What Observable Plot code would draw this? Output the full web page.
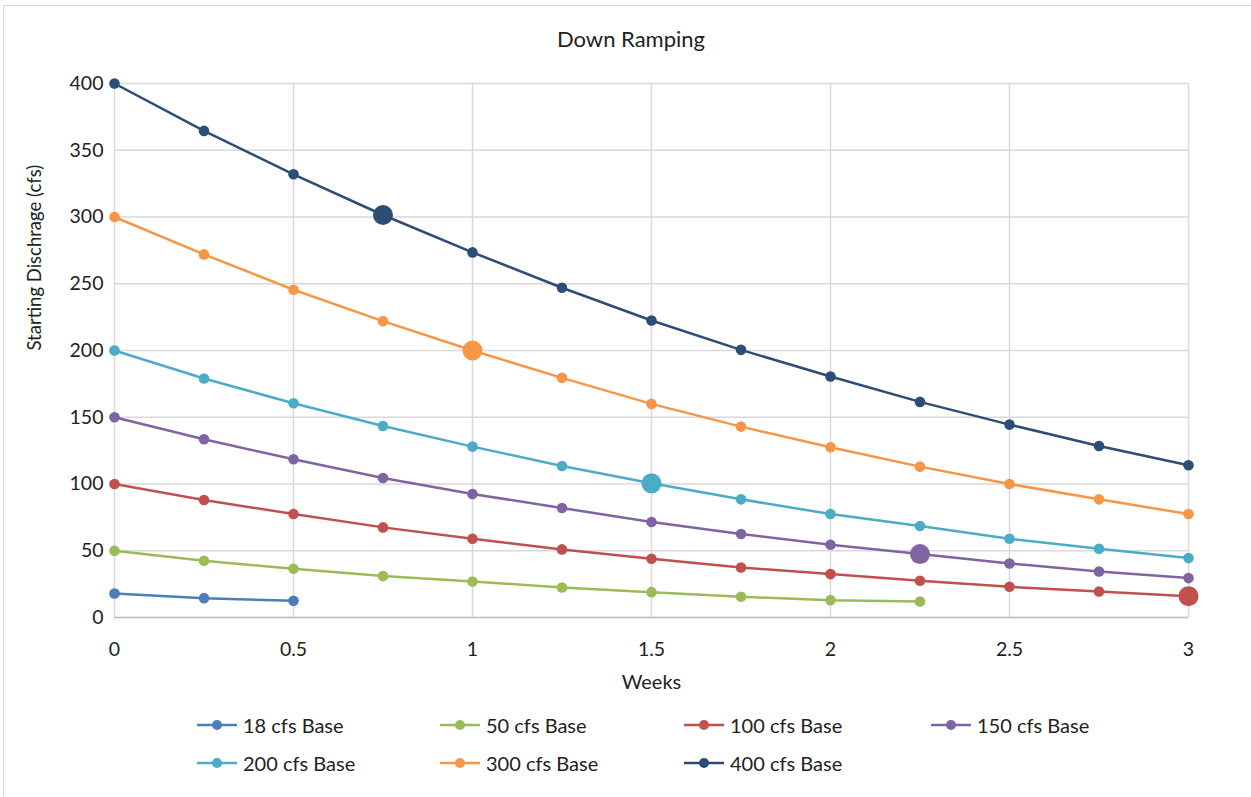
<!DOCTYPE html>
<html>
<head>
<meta charset="utf-8">
<script src="https://cdn.jsdelivr.net/npm/d3@7"></script>
<script src="https://cdn.jsdelivr.net/npm/@observablehq/plot@0.6"></script>
<style>
  html, body { margin: 0; padding: 0; background: #fff; }
  #wrap { position: relative; width: 1251px; height: 797px; overflow: hidden; font-family: Lato, "Open Sans", sans-serif; color: #404040; }
  #border { position: absolute; left: 3px; top: 5px; width: 1260px; height: 800px; border: 1.5px solid #d9d9d9; box-sizing: border-box; }
  #title { position: absolute; left: 0; width: 1262px; top: 25px; text-align: center; font-size: 22px; color: #222; }
  #chart { position: absolute; left: 0; top: 0; }
  .leg { position: absolute; font-size: 20px; color: #222; display: flex; align-items: center; white-space: nowrap; }
  .leg svg { margin-right: 5px; }
</style>
</head>
<body>
<div id="wrap">
  <div id="border"></div>
  <div id="chart"></div>
  <div id="title">Down Ramping</div>
  <div id="legend"></div>
</div>
<script>
// ---- data ----
const weeks = [0, 0.25, 0.5, 0.75, 1, 1.25, 1.5, 1.75, 2, 2.25, 2.5, 2.75, 3];
const seriesNames = ["18 cfs Base", "50 cfs Base", "100 cfs Base", "150 cfs Base", "200 cfs Base", "300 cfs Base", "400 cfs Base"];
const s18  = [18, 14.5, 12.5];
const s50  = [50, 42.5, 36.5, 31, 27, 22.5, 19, 15.5, 13, 12];
const s100 = [100, 88, 77.5, 67.5, 59, 51, 44, 37.5, 32.5, 27.5, 23, 19.5, 16];
const s150 = [150, 133.5, 118.5, 104.5, 92.5, 82, 71.5, 62.5, 54.5, 47.5, 40.5, 34.5, 29.5];
const s200 = [200, 179, 160.5, 143.5, 128, 113.5, 100.5, 88.5, 77.5, 68.5, 59, 51.5, 44.5];
const s300 = [300, 272, 245.5, 222, 200, 179.5, 160, 143, 127.5, 113, 100, 88.5, 77.5];
const s400 = [400, 364.5, 332, 301.5, 273.5, 247, 222.5, 200.5, 180.5, 161.5, 144.5, 128.5, 114];
const highlightWeek = [null, null, 3, 2.25, 1.5, 1, 0.75];
const colors = ["#4A7EBB", "#9BBB59", "#C0504D", "#8064A2", "#4BACC6", "#F79646", "#2C4D75"];
const xTicks = [0, 0.5, 1, 1.5, 2, 2.5, 3];
const yTicks = [0, 50, 100, 150, 200, 250, 300, 350, 400];

const allSeries = [s18, s50, s100, s150, s200, s300, s400];
const rows = [];
allSeries.forEach((vals, i) => {
  vals.forEach((v, j) => rows.push({series: seriesNames[i], week: weeks[j], value: v, big: highlightWeek[i] === weeks[j]}));
});

const W = 1251, H = 700;
const chart = Plot.plot({
  width: W, height: H,
  marginLeft: 114, marginRight: 63, marginTop: 83, marginBottom: 83,
  style: {fontFamily: "Lato, 'Open Sans', sans-serif", fontSize: "19px", color: "#222", background: "transparent"},
  x: {domain: [0, 3], ticks: xTicks, tickFormat: d => String(d), label: null},
  y: {domain: [0, 400], ticks: yTicks, label: null},
  color: {domain: seriesNames, range: colors},
  marks: [
    Plot.gridX(xTicks, {stroke: "#d9d9d9", strokeWidth: 1.5, strokeOpacity: 1}),
    Plot.gridY(yTicks, {stroke: "#d9d9d9", strokeWidth: 1.5, strokeOpacity: 1}),
    Plot.ruleY([0], {stroke: "#bfbfbf", strokeWidth: 1.5}),
    Plot.axisX({ticks: xTicks, tickSize: 0, tickPadding: 25, tickFormat: d => String(d), fontSize: 19.5}),
    Plot.axisY({ticks: yTicks, tickSize: 0, tickPadding: 11, fontSize: 19.5}),
    Plot.line(rows, {x: "week", y: "value", z: "series", stroke: "series", strokeWidth: 2.5}),
    Plot.dot(rows, Plot.filter(d => !d.big, {x: "week", y: "value", fill: "series", r: 5.3, stroke: "none"})),
    Plot.dot(rows, Plot.filter(d => d.big, {x: "week", y: "value", fill: "series", r: 10, stroke: "none"})),
    Plot.text(["Weeks"], {frameAnchor: "bottom", dy: 71, fontSize: 20, fill: "#222"}),
    Plot.text(["Starting Dischrage (cfs)"], {frameAnchor: "left", dx: -79, rotate: -90, fontSize: 18.5, fill: "#222"})
  ]
});
chart.style.overflow = "visible";
document.getElementById("chart").appendChild(chart);

// legend
const legend = document.getElementById("legend");
const legPos = [[196, 725], [439, 725], [683, 725], [930, 725], [196, 763], [439, 763], [683, 763]];
seriesNames.forEach((name, i) => {
  const el = document.createElement("div");
  el.className = "leg";
  el.style.left = legPos[i][0] + "px";
  el.style.top = (legPos[i][1] - 13) + "px";
  el.style.height = "26px";
  el.innerHTML = `<svg width="42" height="12"><line x1="1" x2="41" y1="6" y2="6" stroke="${colors[i]}" stroke-width="2.5"/><circle cx="21" cy="6" r="5" fill="${colors[i]}"/></svg><span>${name}</span>`;
  legend.appendChild(el);
});
</script>
</body>
</html>
